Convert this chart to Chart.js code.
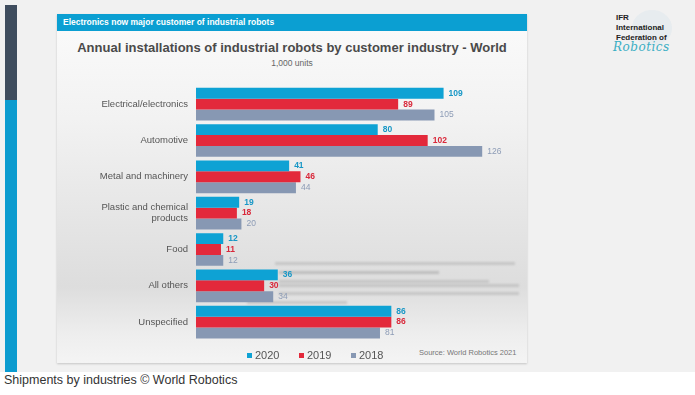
<!DOCTYPE html>
<html>
<head>
<meta charset="utf-8">
<script src="https://cdn.jsdelivr.net/npm/chart.js@4.4.1/dist/chart.umd.min.js"></script>
<style>
  html,body{margin:0;padding:0;background:#fff;}
  body{width:695px;height:395px;position:relative;overflow:hidden;font-family:"Liberation Sans",Arial,sans-serif;}
  .slide{position:absolute;left:0;top:0;width:695px;height:372px;background:#f1f1f1;}
  .stripDark{position:absolute;left:5px;top:5px;width:12px;height:95px;background:#3f4d5e;}
  .stripBlue{position:absolute;left:5px;top:100px;width:12px;height:272px;background:#0b9bcf;}
  .card{position:absolute;left:57px;top:14px;width:470px;height:349px;
        background:linear-gradient(to bottom,#fbfbfb 0%,#f2f2f2 30%,#e4e4e4 62%,#dddddd 78%,#eeeeee 92%,#f4f4f4 100%);
        box-shadow:0 1px 2px rgba(0,0,0,0.18);}
  .hdr{position:absolute;left:0;top:0;width:470px;height:17px;background:#0b9fd2;color:#fff;
       font-weight:bold;font-size:8.5px;line-height:17px;padding-left:6px;box-sizing:border-box;}
  .title{position:absolute;left:0;width:470px;top:26px;text-align:center;color:#4a4a4a;font-weight:bold;font-size:13px;}
  .sub{position:absolute;left:0;width:470px;top:44px;text-align:center;color:#666;font-size:8.5px;}
  .src{position:absolute;left:362px;top:334px;color:#777;font-size:7.5px;}
  .streak{position:absolute;height:3px;background:#b5b5b5;filter:blur(1px);opacity:0.6;}
  #wrap{position:absolute;left:60px;top:70px;width:500px;height:284px;}
  .logo{position:absolute;left:616px;top:13px;font-weight:bold;font-size:8px;line-height:10px;color:#222;}
  .globe{position:absolute;left:632px;top:10px;width:40px;height:36px;border-radius:50%;background:#e2eaee;opacity:0.7;}
  .rob{position:absolute;left:613px;top:40px;font-family:"DejaVu Serif",serif;font-style:italic;font-size:12px;color:#3aaec4;letter-spacing:0.5px;}
  .cap{position:absolute;left:4px;top:373px;font-size:12.5px;color:#333;}
  #legend{position:absolute;top:348px;left:0;height:14px;}
  .li{position:absolute;top:0;font-size:11px;line-height:14px;color:#555;white-space:nowrap;}
  .li i{display:inline-block;width:5px;height:5px;margin-right:3px;vertical-align:1px;}
</style>
</head>
<body>
<div class="slide"></div>
<div class="stripDark"></div>
<div class="stripBlue"></div>
<div class="card">
  <div class="hdr">Electronics now major customer of industrial robots</div>
  <div class="title">Annual installations of industrial robots by customer industry - World</div>
  <div class="sub">1,000 units</div>
  <!-- decorative blur artifacts from the source image -->
  <div class="streak" style="left:218px;top:248px;width:240px;"></div>
  <div class="streak" style="left:222px;top:257px;width:160px;background:#a8a8a8;"></div>
  <div class="streak" style="left:222px;top:266px;width:210px;"></div>
  <div class="streak" style="left:222px;top:270px;width:240px;"></div>
  <div class="streak" style="left:222px;top:278px;width:240px;"></div>
  <div class="streak" style="left:190px;top:287px;width:100px;"></div>
  <div class="src">Source: World Robotics 2021</div>
</div>
<div class="globe"></div>
<div class="logo">IFR<br>International<br>Federation of</div>
<div class="rob">Robotics</div>
<div class="cap">Shipments by industries © World Robotics</div>
<div id="wrap"><canvas id="c"></canvas></div>
<div id="legend"></div>
<script>
const categories = ["Electrical/electronics","Automotive","Metal and machinery",["Plastic and chemical","products"],"Food","All others","Unspecified"];
const seriesNames = ["2020","2019","2018"];
const values2020 = [109, 80, 41, 19, 12, 36, 86];
const values2019 = [89, 102, 46, 18, 11, 30, 86];
const values2018 = [105, 126, 44, 20, 12, 34, 81];

const barColors = ["#0ea2d4","#e3293b","#8798b3"];
const labelColors = ["#1797c6","#d9283a","#8d9cb6"];
const labelWeights = ["bold","bold","normal"];

// HTML legend built from series names/colours
const legendX = [247, 299, 351];
const lg = document.getElementById('legend');
seriesNames.forEach((n,i)=>{
  const d = document.createElement('div');
  d.className = 'li';
  d.style.left = legendX[i] + 'px';
  d.innerHTML = '<i style="background:'+barColors[i]+'"></i>' + n;
  lg.appendChild(d);
});

const valueLabels = {
  id:'valueLabels',
  afterDatasetsDraw(chart){
    const ctx = chart.ctx;
    chart.data.datasets.forEach((ds,i)=>{
      const meta = chart.getDatasetMeta(i);
      ctx.save();
      ctx.font = labelWeights[i]+' 8.5px "Liberation Sans", Arial, sans-serif';
      ctx.fillStyle = labelColors[i];
      ctx.textBaseline = 'middle';
      ctx.textAlign = 'left';
      meta.data.forEach((el,j)=>{
        ctx.fillText(String(ds.data[j]), el.x + 5, el.y);
      });
      ctx.restore();
    });
  }
};

new Chart(document.getElementById('c'),{
  type:'bar',
  data:{
    labels:categories,
    datasets:[
      {label:seriesNames[0],data:values2020,backgroundColor:barColors[0]},
      {label:seriesNames[1],data:values2019,backgroundColor:barColors[1]},
      {label:seriesNames[2],data:values2018,backgroundColor:barColors[2]}
    ]
  },
  options:{
    indexAxis:'y',
    responsive:true,
    maintainAspectRatio:false,
    animation:false,
    categoryPercentage:0.9,
    barPercentage:1.0,
    layout:{padding:{top:16,right:46,bottom:0,left:0}},
    scales:{
      x:{display:false,min:0,max:140},
      y:{
        grid:{display:false,drawTicks:false},
        border:{display:false},
        ticks:{color:'#555',font:{size:9.5,family:'"Liberation Sans", Arial, sans-serif'},padding:8},
        afterFit(s){s.width=136;}
      }
    },
    plugins:{
      legend:{display:false},
      tooltip:{enabled:false}
    }
  },
  plugins:[valueLabels]
});
</script>
</body>
</html>
